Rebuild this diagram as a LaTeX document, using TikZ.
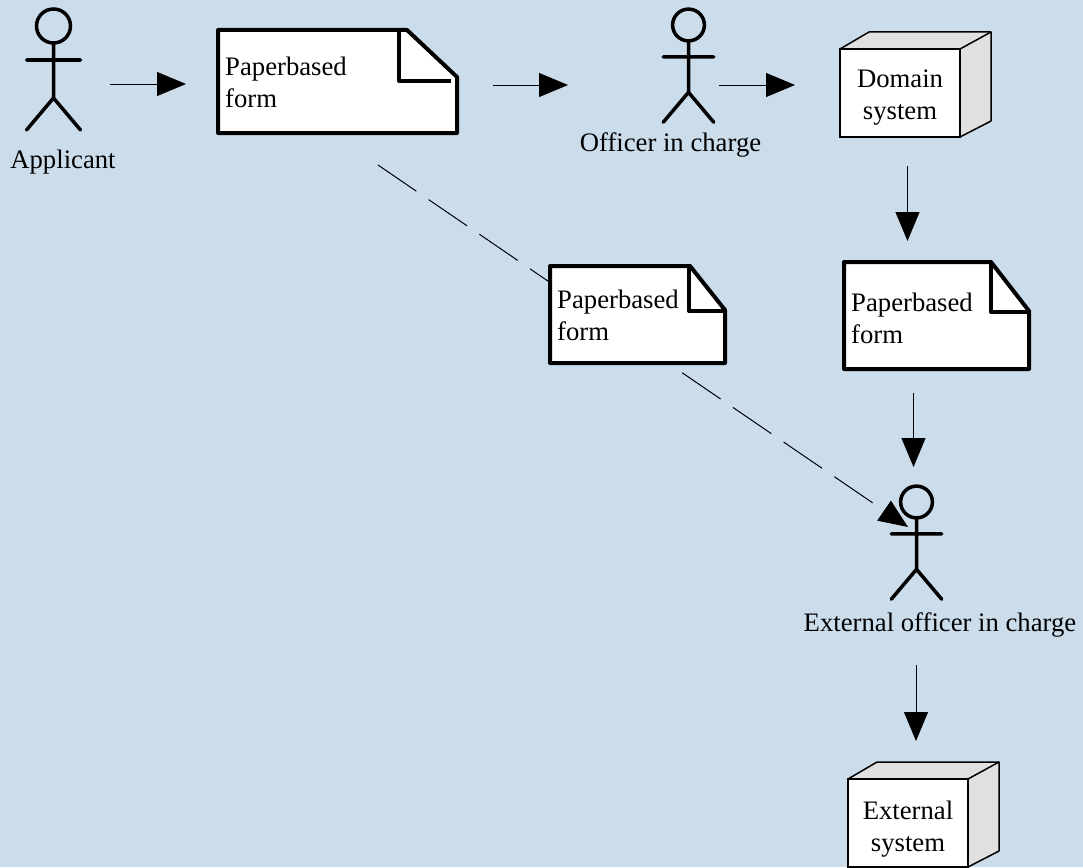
\documentclass[tikz,border=0pt]{standalone}
\usepackage{fontspec}
\setmainfont{Liberation Serif}
\usetikzlibrary{arrows.meta}
\definecolor{backblue}{RGB}{203,220,235}
\definecolor{cubegrey}{RGB}{224,224,224}
\tikzset{
  flow/.style={line width=1pt,-{Triangle[length=29pt,width=24pt]}},
  dashflow/.style={flow,dash pattern=on 46.4pt off 15pt},
  lbl/.style={inner sep=0pt,font=\fontsize{26.7}{31.5}\selectfont,anchor=base},
  doclbl/.style={lbl,anchor=base west,align=left},
  cubelbl/.style={lbl,align=center},
  actor/.pic={
    \draw[line width=3.5pt,line cap=round] (0,0) circle[radius=17]
      (0,17) -- (0,72) (-27,34) -- (27,34) (-27,104) -- (0,72) -- (27,104);
  }
}
\begin{document}
\begin{tikzpicture}[x=1pt,y=-1pt]
\useasboundingbox (0,0) rectangle (1083,867);
\fill[backblue] (0,0) rectangle (1083,867);
% the free ends of the connectors
\foreach \name/\x/\y in {applicantout/110/84,forminn/186/84,formout/492.5/85,officerinn/568/85,
  officerout/719/85,domaininn/795/85,domainout/907.5/166,copyinn/907.5/241,copyout/913.5/393,
  externalinn/913.5/467,externalout/916/665,systeminn/916/741,dashstart/378/165,dashend/908/527}
  \coordinate (\name) at (\x,\y);
% the dashed line goes behind the small form
\draw[dashflow] (dashstart) -- (dashend);
% the forms
\foreach \l/\t/\r/\b/\fx/\fy/\ix/\iy/\ie in {218/30/457/133/407/77/399/81/451,
  550/266/725/363/690/310/689/311/725,844/262/1029/369/991/311/991/312/1029}
{
  \draw[line width=4pt,line join=round,fill=white] (\l,\t) -- (\fx,\t) -- (\r,\fy) -- (\r,\b) -- (\l,\b) -- cycle;
  \draw[line width=4pt,line join=round] (\ix,\t) -- (\ix,\iy) -- (\ie,\iy);
}
\node[doclbl] (bigform) at (225,107) {Paperbased\\form};
\node[doclbl] (midform) at (557,340) {Paperbased\\form};
\node[doclbl] (copyform) at (851,343) {Paperbased\\form};
% the cubes
\foreach \x/\y in {840/49,848/779}
{
  \draw[line width=1.5pt,line join=round,fill=cubegrey] (\x,\y) -- ++(29,-17) -- ++(122,0) -- ++(0,89) -- ++(-31,16) -- ++(0,-88) -- cycle;
  \draw[line width=1.5pt,line join=round] (\x+120,\y) -- ++(31,-17);
  \draw[line width=1.5pt,fill=white] (\x,\y) rectangle ++(120,88);
}
\node[cubelbl] (domain) at (900,119) {Domain\\system};
\node[cubelbl] (system) at (908,851) {External\\system};
% the actors
\pic at (53.5,26) {actor};
\pic[scale=.935] at (688.5,25) {actor};
\pic[scale=.935] at (916.5,502) {actor};
\node[lbl] (applicant) at (63,168) {Applicant};
\node[lbl] (officer) at (670.5,151) {Officer in charge};
\node[lbl] (external) at (940,631) {External officer in charge};
% the arrows
\draw[flow] (applicantout) -- (forminn);
\draw[flow] (formout) -- (officerinn);
\draw[flow] (officerout) -- (domaininn);
\draw[flow] (domainout) -- (copyinn);
\draw[flow] (copyout) -- (externalinn);
\draw[flow] (externalout) -- (systeminn);
\end{tikzpicture}
\end{document}
